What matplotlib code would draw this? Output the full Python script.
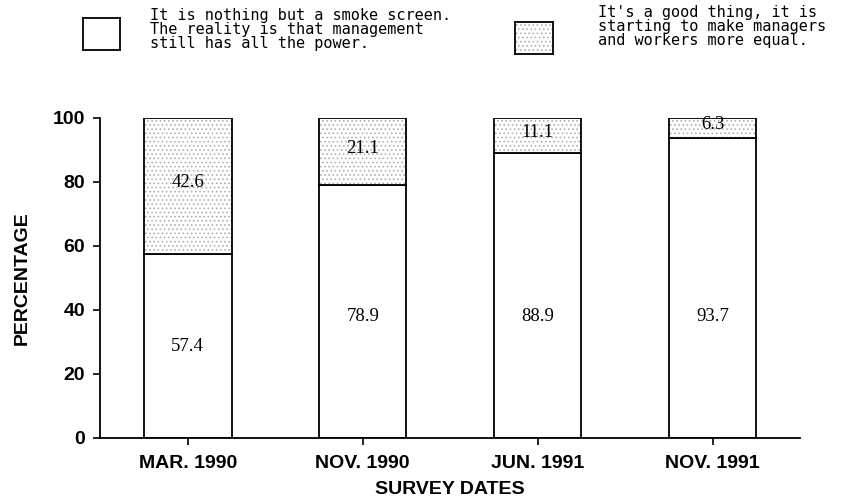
import matplotlib
matplotlib.use("Agg")
import matplotlib.pyplot as plt
import numpy as np

# survey data
dates = ["MAR. 1990", "NOV. 1990", "JUN. 1991", "NOV. 1991"]
smoke_screen = [57.4, 78.9, 88.9, 93.7]
good_thing = [42.6, 21.1, 11.1, 6.3]
legend_labels = ["It is nothing but a smoke screen.\nThe reality is that management\nstill has all the power.",
                 "It's a good thing, it is\nstarting to make managers\nand workers more equal."]

plt.rcParams['hatch.linewidth'] = 0.7
tick_font = ['Liberation Sans Narrow', 'Liberation Sans', 'DejaVu Sans']
stipple = '#b0b0b0'

fig = plt.figure(figsize=(8.43, 5.04), dpi=100)
ax = fig.add_axes([0.119, 0.131, 0.830, 0.635])

x = np.arange(len(dates))
ax.bar(x, smoke_screen, width=0.5, color='white', edgecolor='black', linewidth=1.3)
ax.bar(x, good_thing, width=0.5, bottom=smoke_screen, color='white',
       edgecolor=stipple, linewidth=0, hatch='....')
# outlines over the stipple
ax.bar(x, good_thing, width=0.5, bottom=smoke_screen, color='none',
       edgecolor='black', linewidth=1.3)

for xi, lo, hi in zip(x, smoke_screen, good_thing):
    ax.text(xi, min(lo / 2, 38), f"{lo}", ha='center', va='center',
            fontsize=13.5, family=['Liberation Serif', 'DejaVu Serif'])
    ax.text(xi, lo + hi / 2 + 1, f"{hi}", ha='center', va='center',
            fontsize=13.5, family=['Liberation Serif', 'DejaVu Serif'])

ax.set_xlim(-0.5, 3.5)
ax.set_ylim(0, 100)
ax.set_yticks([0, 20, 40, 60, 80, 100])
ax.set_xticks(x)
ax.set_xticklabels(dates)
for lab in ax.get_xticklabels() + ax.get_yticklabels():
    lab.set_family(tick_font)
    lab.set_fontweight('bold')
    lab.set_fontsize(14)
ax.tick_params(axis='y', direction='out', length=5, width=1.2, pad=6)
ax.tick_params(axis='x', direction='out', length=5, width=1.2, pad=7)
ax.spines['top'].set_visible(False)
ax.spines['right'].set_visible(False)
ax.spines['left'].set_linewidth(1.3)
ax.spines['bottom'].set_linewidth(1.3)

ax.set_ylabel("PERCENTAGE", family=tick_font, fontsize=14, fontweight='bold', labelpad=16)
ax.set_xlabel("SURVEY DATES", family=tick_font, fontsize=14, fontweight='bold', labelpad=7)

# legend drawn by hand at the top
box1 = fig.add_axes([83 / 843, 1 - 50 / 504, 37 / 843, 32 / 504])
box2 = fig.add_axes([515 / 843, 1 - 54 / 504, 38 / 843, 32 / 504])
for b, h in [(box1, None), (box2, '....')]:
    b.set_xticks([])
    b.set_yticks([])
    b.set_xlim(0, 1)
    b.set_ylim(0, 1)
    for s in b.spines.values():
        s.set_linewidth(1.3)
    if h:
        b.bar(0.5, 1, width=1, color='white', hatch=h, edgecolor=stipple, linewidth=0)

fig.text(150 / 843, 1 - 8 / 504, legend_labels[0], ha='left', va='top',
         family='DejaVu Sans Mono', fontsize=11, linespacing=0.9)
fig.text(598 / 843, 1 - 5 / 504, legend_labels[1], ha='left', va='top',
         family='DejaVu Sans Mono', fontsize=11, linespacing=0.9)

fig.savefig("out.png", dpi=100)
